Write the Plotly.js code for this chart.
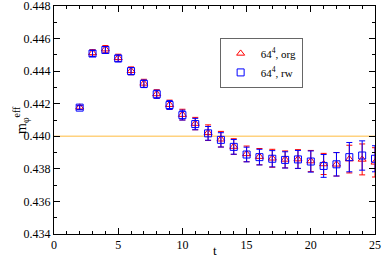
<!DOCTYPE html>
<html>
<head>
<meta charset="utf-8">
<script src="https://cdn.plot.ly/plotly-3.0.1.min.js"></script>
<style>html,body{margin:0;padding:0;background:#fff;}#chart{width:382px;height:257px;}</style>
</head>
<body>
<div id="chart"></div>
<script>
var tValues = [2,3,4,5,6,7,8,9,10,11,12,13,14,15,16,17,18,19,20,21,22,23,24,25];
var orgValues = [0.44178,0.44512,0.44535,0.44482,0.44402,0.44325,0.44260,0.44194,0.44133,0.44078,0.44022,0.43982,0.43937,0.43892,0.43875,0.43865,0.43858,0.43860,0.43848,0.43830,0.43828,0.43860,0.43858,0.43840];
var orgErrors = [0.00012,0.0002,0.00022,0.00022,0.00024,0.00025,0.00026,0.00028,0.00033,0.00038,0.00048,0.00048,0.00048,0.00048,0.0005,0.00055,0.00052,0.00058,0.00065,0.00065,0.00072,0.00085,0.00095,0.0009];
var rwValues = [0.44176,0.44508,0.44530,0.44478,0.44400,0.44322,0.44258,0.44192,0.44130,0.44075,0.44018,0.43978,0.43935,0.43888,0.43872,0.43862,0.43855,0.43858,0.43845,0.43818,0.43828,0.43872,0.43882,0.43862];
var rwErrors = [0.00012,0.00018,0.0002,0.0002,0.00022,0.00023,0.00025,0.00027,0.0003,0.00035,0.00042,0.00044,0.00045,0.00045,0.00048,0.0005,0.0005,0.00055,0.00065,0.0007,0.00072,0.0009,0.0009,0.0008];
var refLineX = [0, 25];
var refLineY = [0.440, 0.440];
var seriesNames = ['64<sup>4</sup>, org', '64<sup>4</sup>, rw'];
var xTitle = 't';
var yTitle = 'm<sub>φ</sub><sup>eff</sup>';

var serif = 'Liberation Serif, Times New Roman, serif';

var traces = [
  {x: refLineX, y: refLineY, mode: 'lines', line: {color: '#ffd27f', width: 1.6}, showlegend: false, hoverinfo: 'skip'},
  {x: tValues, y: orgValues, name: seriesNames[0], mode: 'markers',
   marker: {symbol: 'triangle-up-open', size: 7, color: '#ff0000', line: {width: 1}},
   error_y: {type: 'data', array: orgErrors, visible: true, color: '#ff0000', thickness: 1, width: 3}},
  {x: tValues, y: rwValues, name: seriesNames[1], mode: 'markers',
   marker: {symbol: 'square-open', size: 7, color: '#0000ff', line: {width: 1}},
   error_y: {type: 'data', array: rwErrors, visible: true, color: '#0000ff', thickness: 1, width: 3}}
];

var axisCommon = {
  showline: true, linecolor: '#000', linewidth: 1, mirror: 'allticks',
  ticks: 'inside', ticklen: 6, tickwidth: 1, tickcolor: '#000',
  showgrid: false, zeroline: false, ticklabeloverflow: 'allow',
  tickfont: {family: serif, size: 12, color: '#000'}
};

var layout = {
  width: 382, height: 257,
  margin: {l: 54, r: 7, t: 6, b: 23},
  paper_bgcolor: '#fff', plot_bgcolor: '#fff',
  showlegend: true,
  legend: {x: 0.516, y: 0.86, xanchor: 'left', yanchor: 'top', bgcolor: '#fff',
           bordercolor: '#666', borderwidth: 1, font: {family: serif, size: 11, color: '#000'},
           itemwidth: 30, tracegroupgap: 0},
  xaxis: Object.assign({}, axisCommon, {
    range: [0, 25], dtick: 5, tick0: 0,
    minor: {dtick: 1, ticks: 'inside', ticklen: 3, tickcolor: '#000'}
  }),
  yaxis: Object.assign({}, axisCommon, {
    range: [0.434, 0.448], dtick: 0.002, tick0: 0.434, tickformat: '.3f',
    minor: {dtick: 0.001, ticks: 'inside', ticklen: 3, tickcolor: '#000'}
  }),
  annotations: [
    {text: xTitle, xref: 'paper', yref: 'paper', x: 0.5, y: 0, xanchor: 'center', yanchor: 'top',
     yshift: -7, showarrow: false, font: {family: serif, size: 13, color: '#000'}},
    {text: yTitle, xref: 'paper', yref: 'paper', x: 0, y: 0.5, xanchor: 'right', yanchor: 'middle',
     xshift: -21, textangle: -90, showarrow: false, font: {family: serif, size: 14, color: '#000'}}
  ]
};

Plotly.newPlot('chart', traces, layout, {staticPlot: true, displayModeBar: false});
</script>
</body>
</html>
